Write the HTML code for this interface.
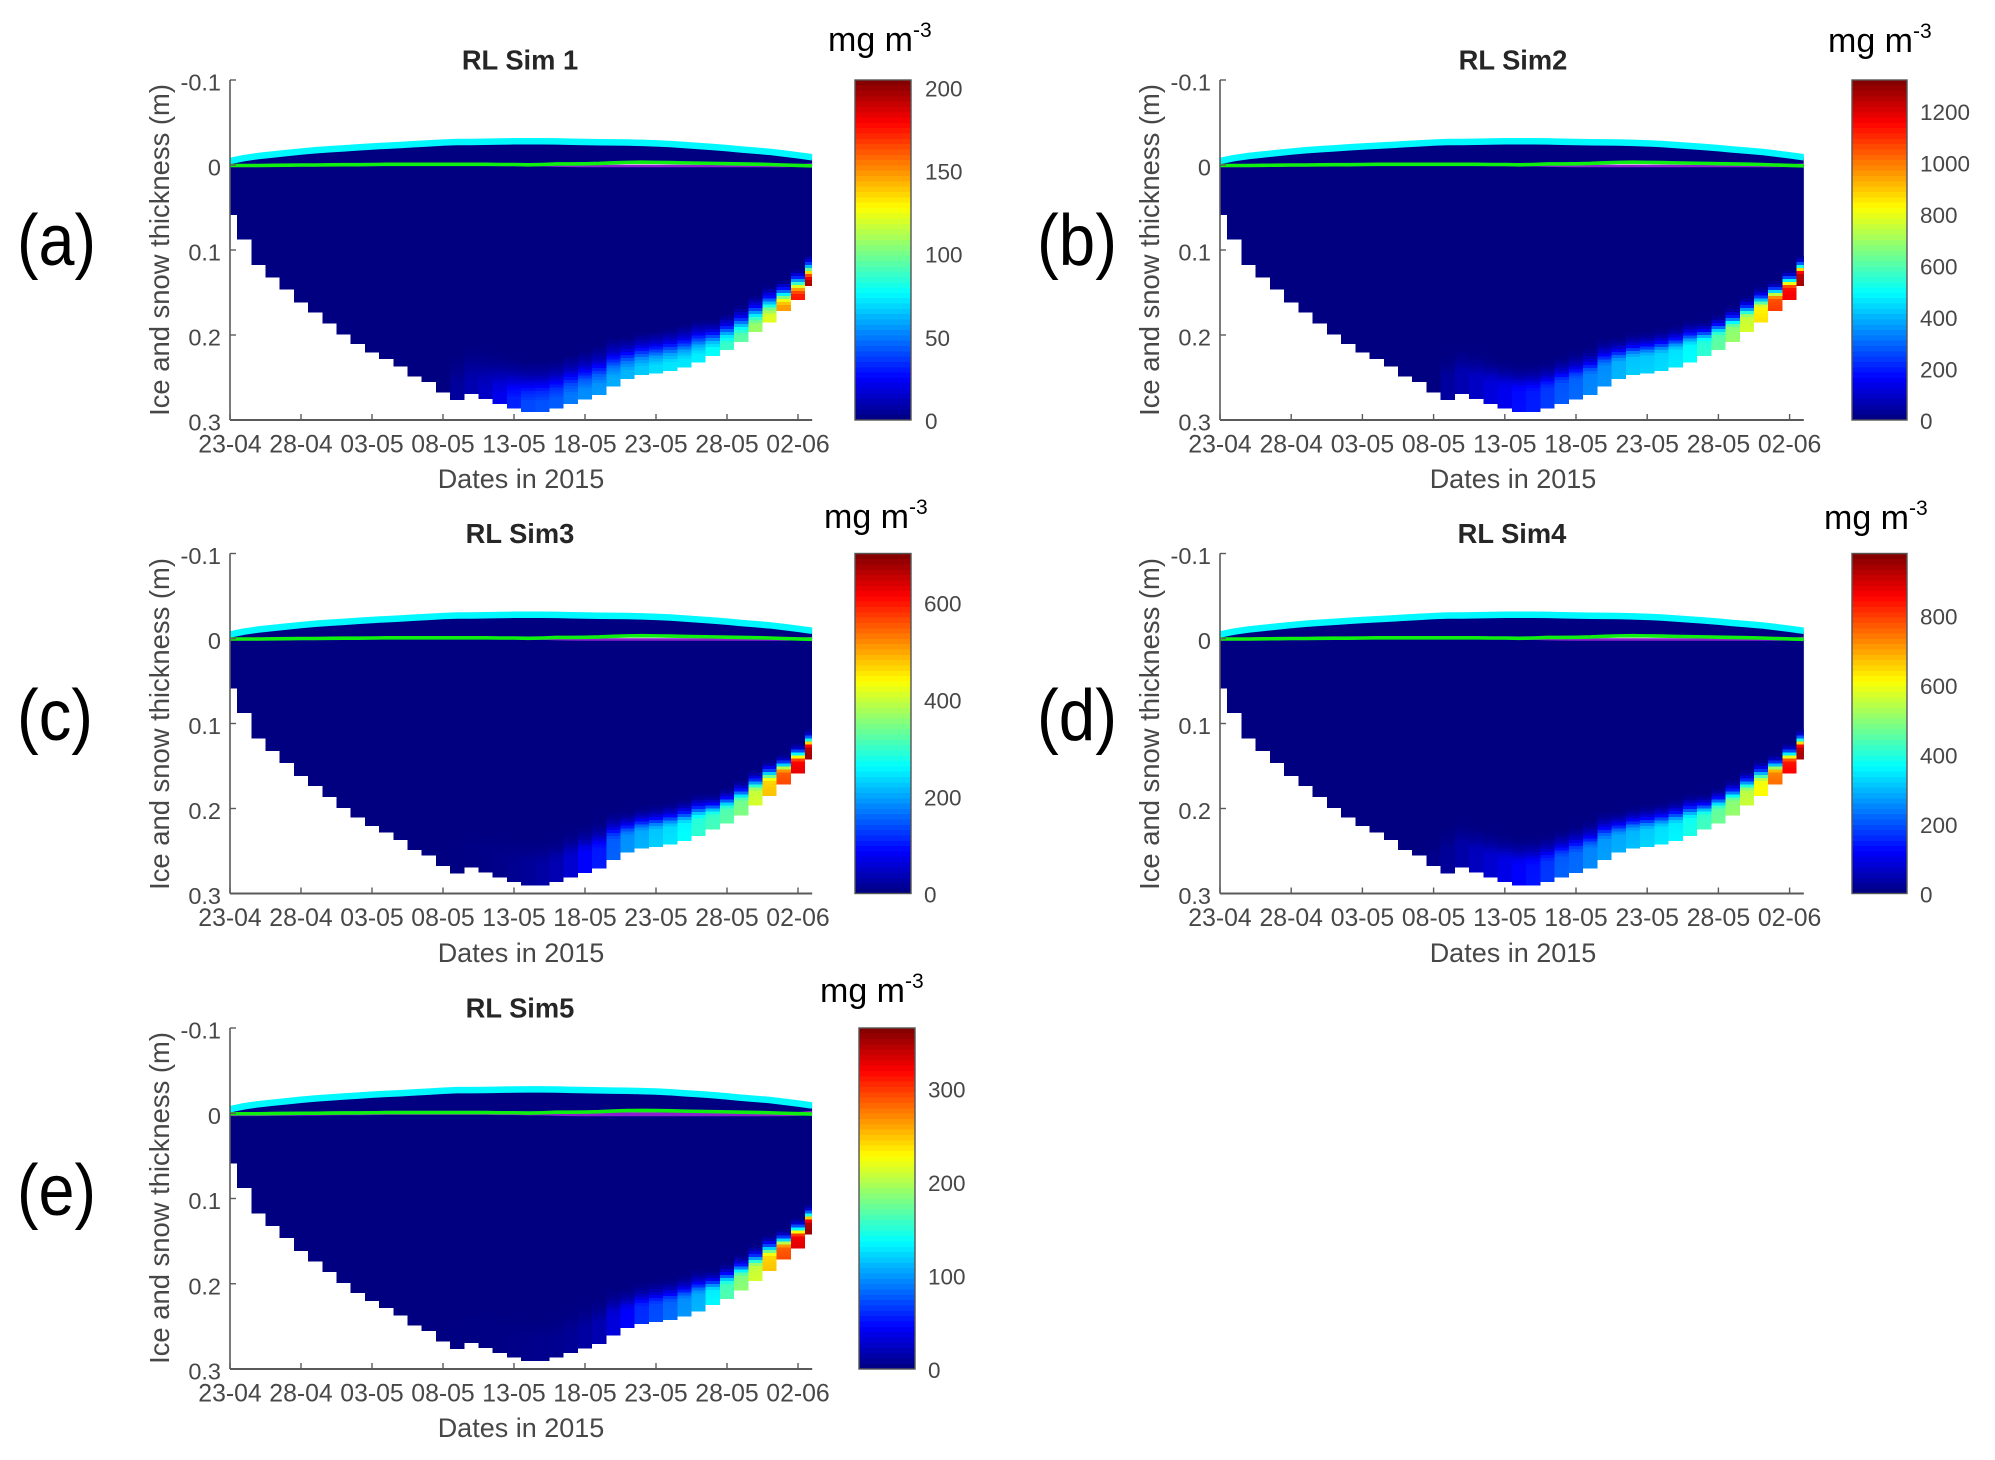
<!DOCTYPE html>
<html lang="en">
<head>
<meta charset="utf-8">
<title>RL Sim ice and snow thickness panels</title>
<style>
html,body{margin:0;padding:0;background:#fff}
svg{display:block}
text{font-family:"Liberation Sans",sans-serif}
.tick{font-size:23.5px;fill:#474747}
.tick-x{font-size:24.8px;fill:#474747}
.cbar-tick{font-size:22.5px;fill:#474747}
.axis-label{font-size:27px;fill:#474747}
.y-label{font-size:27.4px;fill:#474747}
.panel-title{font-size:27.3px;font-weight:bold;fill:#262626}
.units{font-size:34px;fill:#000}
.units tspan{font-size:21px}
.panel-tag{font-size:72px;fill:#000}
</style>
</head>
<body>
<svg id="figure" width="1995" height="1460" viewBox="0 0 1995 1460" xmlns="http://www.w3.org/2000/svg">
<rect width="1995" height="1460" fill="#fff"/>

<g id="panel-a">
  <text class="panel-tag" x="17" y="265" textLength="79" lengthAdjust="spacingAndGlyphs">(a)</text>
  <text class="panel-title" x="520" y="69.5" text-anchor="middle">RL Sim 1</text>
  <text class="y-label" text-anchor="middle" transform="translate(169,250) rotate(-90)">Ice and snow thickness (m)</text>
  <text class="axis-label" x="521" y="488" text-anchor="middle">Dates in 2015</text>
  <text class="units" x="828" y="51">mg m<tspan dy="-14">-3</tspan></text>
</g>

<g id="panel-b">
  <text class="panel-tag" x="1037" y="265" textLength="80" lengthAdjust="spacingAndGlyphs">(b)</text>
  <text class="panel-title" x="1513" y="69.5" text-anchor="middle">RL Sim2</text>
  <text class="y-label" text-anchor="middle" transform="translate(1159,250) rotate(-90)">Ice and snow thickness (m)</text>
  <text class="axis-label" x="1513" y="488" text-anchor="middle">Dates in 2015</text>
  <text class="units" x="1828" y="52">mg m<tspan dy="-14">-3</tspan></text>
</g>

<g id="panel-c">
  <text class="panel-tag" x="17" y="740" textLength="76" lengthAdjust="spacingAndGlyphs">(c)</text>
  <text class="panel-title" x="520" y="543" text-anchor="middle">RL Sim3</text>
  <text class="y-label" text-anchor="middle" transform="translate(169,724) rotate(-90)">Ice and snow thickness (m)</text>
  <text class="axis-label" x="521" y="962" text-anchor="middle">Dates in 2015</text>
  <text class="units" x="824" y="528">mg m<tspan dy="-14">-3</tspan></text>
</g>

<g id="panel-d">
  <text class="panel-tag" x="1037" y="740" textLength="80" lengthAdjust="spacingAndGlyphs">(d)</text>
  <text class="panel-title" x="1512" y="543" text-anchor="middle">RL Sim4</text>
  <text class="y-label" text-anchor="middle" transform="translate(1159,724) rotate(-90)">Ice and snow thickness (m)</text>
  <text class="axis-label" x="1513" y="962" text-anchor="middle">Dates in 2015</text>
  <text class="units" x="1824" y="529">mg m<tspan dy="-14">-3</tspan></text>
</g>

<g id="panel-e">
  <text class="panel-tag" x="17" y="1215" textLength="79" lengthAdjust="spacingAndGlyphs">(e)</text>
  <text class="panel-title" x="520" y="1017.5" text-anchor="middle">RL Sim5</text>
  <text class="y-label" text-anchor="middle" transform="translate(169,1198) rotate(-90)">Ice and snow thickness (m)</text>
  <text class="axis-label" x="521" y="1437" text-anchor="middle">Dates in 2015</text>
  <text class="units" x="820" y="1002">mg m<tspan dy="-14">-3</tspan></text>
</g>
</svg>

<script>
// ---- data ----
const dateTickDays = [0, 5, 10, 15, 20, 25, 30, 35, 40];
const dateTickLabels = ['23-04', '28-04', '03-05', '08-05', '13-05', '18-05', '23-05', '28-05', '02-06'];
const depthTicks = [-0.1, 0, 0.1, 0.2, 0.3];
const depthTickLabels = ['-0.1', '0', '0.1', '0.2', '0.3'];

// ice bottom depth (m) for each day
const iceBottom = [
  .0588, .0875, .1176, .1322, .1463, .1616, .1737, .1863, .1992, .2106, .2204, .2282, .2373, .2490,
  .2553, .2675, .2765, .2694, .2753, .2812, .2863, .2906, .2906, .2863, .2812, .2757, .2706, .2608,
  .2518, .2471, .2451, .2424, .2384, .2325, .2247, .2176, .2082, .1965, .1851, .1718, .1588, .1424
];
// snow surface (m, negative is above sea level)
const snowSurface = [
  -.0047, -.0082, -.0106, -.0124, -.0141, -.0158, -.0173, -.0185, -.0196, -.0207, -.0218, -.0227, -.0235, -.0245,
  -.0254, -.0264, -.0271, -.0271, -.0273, -.0276, -.0279, -.0280, -.0280, -.0278, -.0274, -.0271, -.0268, -.0266,
  -.0264, -.0260, -.0255, -.0247, -.0235, -.0224, -.0212, -.0198, -.0182, -.0169, -.0155, -.0135, -.0114, -.0091
];
// ice surface (green line)
const iceSurface = [
  .0006, .0006, .0006, .0004, .0002, 0, 0, -.0002, -.0004, -.0004, -.0006, -.0008, -.0008, -.0008,
  -.0008, -.0008, -.0008, -.0008, -.0008, -.0006, -.0006, -.0002, -.0006, -.0012, -.0012, -.0014, -.0018, -.0026,
  -.0031, -.0033, -.0031, -.0029, -.0025, -.0022, -.0019, -.0016, -.0013, -.0010, -.0006, 0, .0005, .0010
];
// sea level / freeboard (purple line)
const freeboardLine = [
  .0010, .0010, .0010, .0008, .0006, .0004, .0004, .0002, 0, 0, -.0002, -.0004, -.0004, -.0004,
  -.0004, -.0004, -.0004, -.0004, -.0004, -.0002, -.0002, .0002, .0002, .0008, .0010, .0012, .0012, .0012,
  .0012, .0012, .0012, .0012, .0012, .0012, .0012, .0012, .0012, .0012, .0012, .0012, .0008, -.0006
];
// height above the ice bottom (m) over which the algal layer fades out, per day
const fadeHeight = [
  .03, .03, .03, .03, .03, .03, .03, .03, .03, .03, .03, .03, .03, .03,
  .03, .03, .06, .06, .06, .06, .06, .06, .06, .058, .058, .058, .058, .058,
  .05, .05, .05, .05, .05, .05, .042, .042, .042, .042, .042, .035, .035, .035
];
// concentration at the ice bottom (mg m-3), per day, per simulation
const sim1Values = [
  0, 0, 0, 0, 0, 0, 0, 0, 0, 0, 0, 0, 0, 0, 0, 0,
  6, 10, 14, 22, 32, 40, 42, 44, 50, 54, 56, 60, 62, 66, 70, 72, 72, 74, 78, 88, 95, 108, 122, 148, 175, 195
];
const sim2Values = [
  0, 0, 0, 0, 0, 0, 0, 0, 0, 0, 0, 0, 0, 0, 0, 0,
  40, 65, 90, 120, 145, 180, 200, 240, 280, 300, 340, 355, 400, 430, 435, 450, 470, 500, 555, 620, 690, 770, 860, 1080, 1170, 1270
];
const sim3Values = [
  0, 0, 0, 0, 0, 0, 0, 0, 0, 0, 0, 0, 0, 0, 0, 0,
  2, 3, 5, 8, 12, 18, 25, 35, 56, 88, 105, 155, 190, 210, 230, 245, 265, 295, 310, 325, 350, 410, 480, 565, 630, 680
];
const sim4Values = [
  0, 0, 0, 0, 0, 0, 0, 0, 0, 0, 0, 0, 0, 0, 0, 12,
  25, 40, 60, 78, 100, 122, 140, 175, 215, 225, 255, 275, 290, 305, 325, 345, 360, 390, 430, 470, 510, 560, 615, 750, 860, 940
];
const sim5Values = [
  0, 0, 0, 0, 0, 0, 0, 0, 0, 0, 0, 0, 0, 0, 0, 0,
  1, 1, 2, 2, 3, 4, 5, 6, 8, 12, 18, 33, 46, 62, 73, 84, 99, 110, 135, 165, 187, 212, 249, 293, 330, 355
];
// fraction of the bottom concentration at a fraction of the fade height
const profileHeights = [0, .2, .4, .5, .6, .7, .85, 1];
const profileBroad = [1, .99, .8, .6, .42, .24, .1, 0];
const profileSharp = [1, .99, .97, .85, .55, .3, .08, 0];

const sim1CbarTicks = [0, 50, 100, 150, 200];
const sim2CbarTicks = [0, 200, 400, 600, 800, 1000, 1200];
const sim3CbarTicks = [0, 200, 400, 600];
const sim4CbarTicks = [0, 200, 400, 600, 800];
const sim5CbarTicks = [0, 100, 200, 300];

// ---- layout ----
const panels = [
  {key: 'a', x0: 230, step: 14.2, top: 80, h: 340, barX: 855, barW: 56, labelX: 925, max: 204.4, values: sim1Values, ticks: sim1CbarTicks, profile: profileBroad, purple: 2.5},
  {key: 'b', x0: 1220, step: 14.24, top: 80, h: 340, barX: 1852, barW: 55, labelX: 1920, max: 1320, values: sim2Values, ticks: sim2CbarTicks, profile: profileSharp, purple: 2.5},
  {key: 'c', x0: 230, step: 14.2, top: 553.5, h: 340, barX: 855, barW: 56, labelX: 924, max: 701, values: sim3Values, ticks: sim3CbarTicks, profile: profileSharp, purple: 2.5},
  {key: 'd', x0: 1220, step: 14.24, top: 553.5, h: 340, barX: 1852, barW: 55, labelX: 1920, max: 978, values: sim4Values, ticks: sim4CbarTicks, profile: profileSharp, purple: 2.5},
  {key: 'e', x0: 230, step: 14.2, top: 1028, h: 341, barX: 859, barW: 56, labelX: 928, max: 364.5, values: sim5Values, ticks: sim5CbarTicks, profile: profileSharp, purple: 4}
];
const lastDay = iceBottom.length - 1;
const SVGNS = 'http://www.w3.org/2000/svg';
const CELL_PX = 3;

function make(parent, tag, props) {
  const el = document.createElementNS(SVGNS, tag);
  for (const k in props) el.setAttribute(k, props[k]);
  parent.appendChild(el);
  return el;
}
function jet(t) {
  t = Math.max(0, Math.min(1, t));
  const ch = function (c) {
    return Math.round(255 * Math.max(0, Math.min(1, 1.5 - Math.abs(4 * t - c))));
  };
  return 'rgb(' + ch(3) + ',' + ch(2) + ',' + ch(1) + ')';
}
function profileAt(profile, u) {
  for (let i = 1; i < profileHeights.length; i++) {
    if (u <= profileHeights[i]) {
      const a = profileHeights[i - 1], b = profileHeights[i];
      return profile[i - 1] + (profile[i] - profile[i - 1]) * (u - a) / (b - a);
    }
  }
  return 0;
}

panels.forEach(function (p) {
  const root = document.getElementById('panel-' + p.key);
  const xScale = function (day) { return p.x0 + p.step * day; };
  const yScale = function (depth) { return p.top + (depth + 0.1) / 0.4 * p.h; };
  const colorScale = function (v) { return jet(v / p.max); };
  const xMax = xScale(lastDay);
  const navy = colorScale(0);

  const clip = make(root, 'clipPath', {id: 'plot-clip-' + p.key});
  make(clip, 'rect', {x: p.x0, y: p.top, width: xMax - p.x0, height: p.h});

  const plot = make(root, 'g', {'clip-path': 'url(#plot-clip-' + p.key + ')'});
  
  

  // snow layer
  let snowPts = [];
  iceSurface.forEach(function (d, i) { snowPts.push(xScale(i) + ',' + yScale(snowSurface[i])); });
  for (let i = lastDay; i >= 0; i--) snowPts.push(xScale(i) + ',' + yScale(iceSurface[i]));
  const snow = make(plot, 'polygon', {points: snowPts.join(' '), fill: navy});
  
  

  // ice columns
  iceBottom.forEach(function (bottom, i) {
    const left = Math.max(p.x0, xScale(i - 0.5));
    const right = Math.min(xMax, xScale(i + 0.5));
    const w = right - left;
    const col = make(plot, 'rect', {x: left, y: yScale(0), width: w, height: yScale(bottom) - yScale(0), fill: navy, 'shape-rendering': 'crispEdges'});
    
    
    const v = p.values[i];
    if (v <= 0) return;
    const fadePx = yScale(fadeHeight[i]) - yScale(0);
    const yb = yScale(bottom);
    for (let h = 0; h < fadePx; h += CELL_PX) {
      const val = v * profileAt(p.profile, (h + CELL_PX / 2) / fadePx);
      const cell = make(plot, 'rect', {x: left, y: yb - h - CELL_PX, width: w, height: CELL_PX, fill: colorScale(val), 'shape-rendering': 'crispEdges'});
      
      
    }
  });

  const toPoints = function (series) {
    return series.map(function (d, i) { return xScale(i) + ',' + yScale(d); }).join(' ');
  };
  const snowLine = make(plot, 'polyline', {points: toPoints(snowSurface), fill: 'none', stroke: '#00f8ff', 'stroke-width': 6.5});
  
  
  const purpleLine = make(plot, 'polyline', {points: toPoints(freeboardLine), fill: 'none', stroke: '#8a1fd0', 'stroke-width': p.purple});
  
  
  const greenLine = make(plot, 'polyline', {points: toPoints(iceSurface), fill: 'none', stroke: '#10f010', 'stroke-width': 3.6});
  
  

  // axes
  const yAxis = make(root, 'line', {x1: p.x0, x2: p.x0, y1: p.top, y2: p.top + p.h, stroke: '#5a5a5a', 'stroke-width': 1.6});
  
  
  const xAxis = make(root, 'line', {x1: p.x0, x2: xMax, y1: p.top + p.h, y2: p.top + p.h, stroke: '#5a5a5a', 'stroke-width': 2});
  
  

  depthTicks.forEach(function (d, i) {
    const y = yScale(d);
    const t = make(root, 'line', {x1: p.x0, x2: p.x0 + 6, y1: y, y2: y, stroke: '#5a5a5a', 'stroke-width': 1.4});
    
    
    const label = make(root, 'text', {x: p.x0 - 9, y: y + 10.5, 'text-anchor': 'end', 'class': 'tick'});
    label.textContent = depthTickLabels[i];
    
    
  });
  dateTickDays.forEach(function (day, i) {
    const x = xScale(day);
    const t = make(root, 'line', {x1: x, x2: x, y1: p.top + p.h, y2: p.top + p.h - 6, stroke: '#5a5a5a', 'stroke-width': 1.4});
    
    
    const label = make(root, 'text', {x: x, y: p.top + p.h + 32.5, 'text-anchor': 'middle', 'class': 'tick-x'});
    label.textContent = dateTickLabels[i];
    
    
  });

  // colorbar
  const bar = make(root, 'g', {});
  
  
  const LEVELS = 64;
  const bh = p.h / LEVELS;
  for (let k = 0; k < LEVELS; k++) {
    const band = make(bar, 'rect', {x: p.barX, y: p.top + p.h - (k + 1) * bh, width: p.barW, height: bh + 0.4, fill: jet((k + 0.5) / LEVELS), 'shape-rendering': 'crispEdges'});
    
    
  }
  const frame = make(bar, 'rect', {x: p.barX, y: p.top, width: p.barW, height: p.h, fill: 'none', stroke: '#555', 'stroke-width': 1.4});
  
  
  p.ticks.forEach(function (v) {
    const y = p.top + p.h - v / p.max * p.h;
    const label = make(bar, 'text', {x: p.labelX, y: y + 9, 'class': 'cbar-tick'});
    label.textContent = String(v);
    
    
  });
});
</script>
</body>
</html>
